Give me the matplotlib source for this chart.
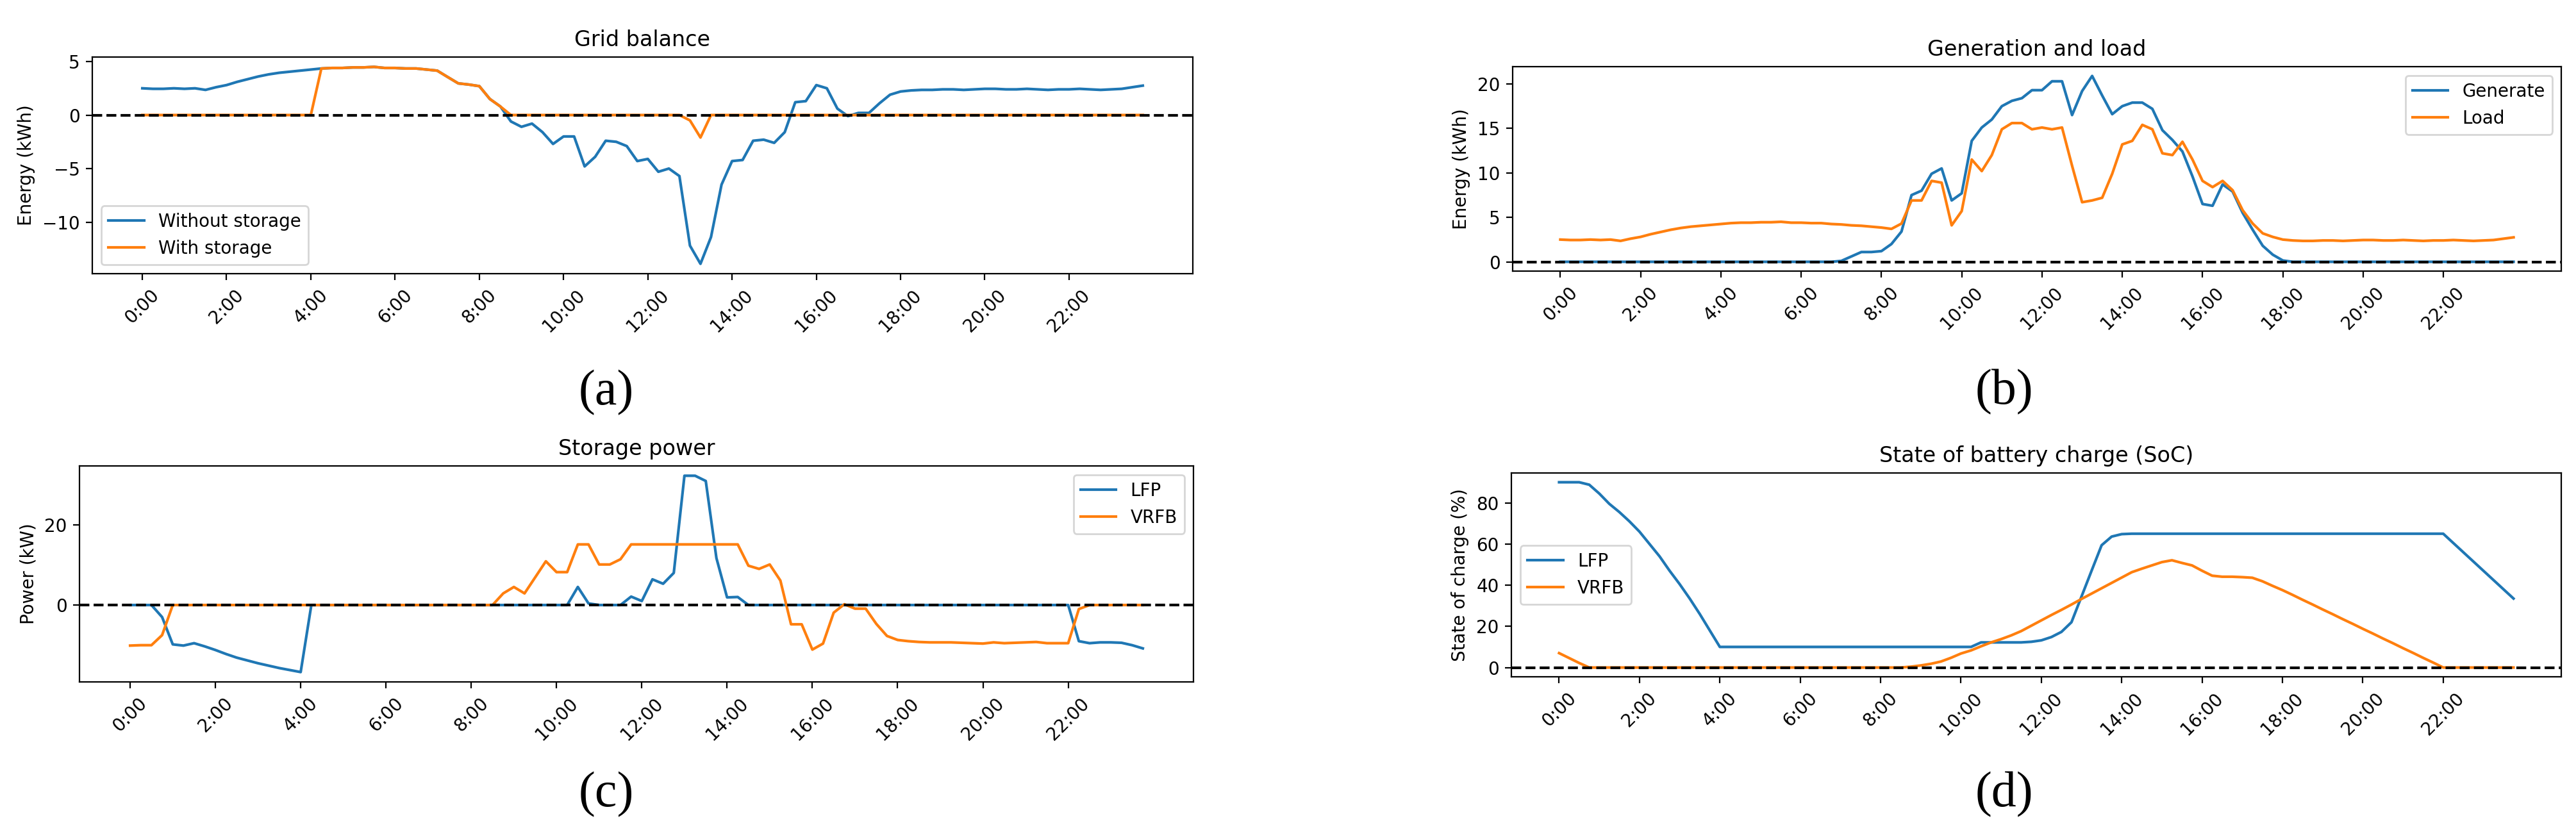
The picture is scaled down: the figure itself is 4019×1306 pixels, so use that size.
import matplotlib
matplotlib.use("Agg")
import matplotlib.pyplot as plt
import numpy as np
from matplotlib.ticker import MultipleLocator

# ---------------- data (15-min resolution, 96 points) ----------------
tick_labels = ["0:00", "2:00", "4:00", "6:00", "8:00", "10:00", "12:00",
               "14:00", "16:00", "18:00", "20:00", "22:00"]

grid_without_storage = [
    2.5, 2.45, 2.45, 2.5, 2.45, 2.5, 2.35, 2.6, 2.8, 3.1, 3.35, 3.6,
    3.8, 3.95, 4.05, 4.15, 4.25, 4.35, 4.4, 4.4, 4.45, 4.45, 4.5, 4.4,
    4.4, 4.35, 4.35, 4.25, 4.15, 3.55, 2.96, 2.85, 2.7, 1.5, 0.8, -0.6,
    -1.1, -0.8, -1.6, -2.7, -2.0, -2.0, -4.8, -3.9, -2.4, -2.5, -2.9, -4.3,
    -4.1, -5.3, -5.0, -5.7, -12.2, -13.9, -11.4, -6.5, -4.3, -4.2, -2.4, -2.3,
    -2.6, -1.6, 1.2, 1.3, 2.8, 2.5, 0.6, -0.1, 0.2, 0.2, 1.1, 1.9,
    2.2, 2.3, 2.35, 2.35, 2.4, 2.4, 2.35, 2.4, 2.45, 2.45, 2.4, 2.4,
    2.45, 2.4, 2.35, 2.4, 2.4, 2.45, 2.4, 2.35, 2.4, 2.45, 2.6, 2.75]

grid_with_storage = [
    0, 0, 0, 0, 0, 0, 0, 0, 0, 0, 0, 0,
    0, 0, 0, 0, 0, 4.35, 4.4, 4.4, 4.45, 4.45, 4.5, 4.4,
    4.4, 4.35, 4.35, 4.25, 4.15, 3.55, 2.96, 2.85, 2.7, 1.5, 0.8, 0,
    0, 0, 0, 0, 0, 0, 0, 0, 0, 0, 0, 0,
    0, 0, 0, 0, -0.5, -2.1, 0, 0, 0, 0, 0, 0,
    0, 0, 0, 0, 0, 0, 0, 0, 0, 0, 0, 0,
    0, 0, 0, 0, 0, 0, 0, 0, 0, 0, 0, 0,
    0, 0, 0, 0, 0, 0, 0, 0, 0, 0, 0, 0]

generate = [
    0, 0, 0, 0, 0, 0, 0, 0, 0, 0, 0, 0,
    0, 0, 0, 0, 0, 0, 0, 0, 0, 0, 0, 0,
    0, 0, 0, 0, 0.1, 0.6, 1.1, 1.1, 1.2, 2.0, 3.4, 7.5,
    8.0, 9.9, 10.5, 6.9, 7.7, 13.6, 15.1, 16.0, 17.5, 18.1, 18.4, 19.3,
    19.3, 20.3, 20.3, 16.5, 19.2, 20.9, 18.7, 16.6, 17.5, 17.9, 17.9, 17.2,
    14.8, 13.7, 12.4, 9.6, 6.5, 6.3, 8.7, 7.9, 5.5, 3.6, 1.8, 0.8,
    0.15, 0, 0, 0, 0, 0, 0, 0, 0, 0, 0, 0,
    0, 0, 0, 0, 0, 0, 0, 0, 0, 0, 0, 0]

load = [
    2.5, 2.45, 2.45, 2.5, 2.45, 2.5, 2.35, 2.6, 2.8, 3.1, 3.35, 3.6,
    3.8, 3.95, 4.05, 4.15, 4.25, 4.35, 4.4, 4.4, 4.45, 4.45, 4.5, 4.4,
    4.4, 4.35, 4.35, 4.25, 4.2, 4.1, 4.05, 3.95, 3.85, 3.7, 4.3, 6.9,
    6.9, 9.1, 8.9, 4.1, 5.7, 11.5, 10.2, 12.0, 14.9, 15.6, 15.6, 14.9,
    15.1, 14.9, 15.1, 10.8, 6.7, 6.9, 7.2, 9.9, 13.2, 13.6, 15.4, 14.9,
    12.2, 12.0, 13.5, 11.5, 9.1, 8.4, 9.1, 8.05, 5.8, 4.3, 3.2, 2.8,
    2.5, 2.4, 2.35, 2.35, 2.4, 2.4, 2.35, 2.4, 2.45, 2.45, 2.4, 2.4,
    2.45, 2.4, 2.35, 2.4, 2.4, 2.45, 2.4, 2.35, 2.4, 2.45, 2.6, 2.75]

lfp_power = [
    0, 0, 0, -3.0, -9.8, -10.1, -9.5, -10.3, -11.2, -12.2, -13.1, -13.8,
    -14.5, -15.1, -15.7, -16.2, -16.7, 0, 0, 0, 0, 0, 0, 0,
    0, 0, 0, 0, 0, 0, 0, 0, 0, 0, 0, 0,
    0, 0, 0, 0, 0, 0, 4.5, 0.4, 0, 0, 0, 2.1,
    1.0, 6.4, 5.3, 8.0, 32.2, 32.2, 30.9, 11.7, 1.9, 2.0, 0, 0,
    0, 0, 0, 0, 0, 0, 0, 0, 0, 0, 0, 0,
    0, 0, 0, 0, 0, 0, 0, 0, 0, 0, 0, 0,
    0, 0, 0, 0, 0, -9.0, -9.5, -9.3, -9.3, -9.4, -10.0, -10.8]

vrfb_power = [
    -10.1, -10.0, -10.0, -7.5, 0, 0, 0, 0, 0, 0, 0, 0,
    0, 0, 0, 0, 0, 0, 0, 0, 0, 0, 0, 0,
    0, 0, 0, 0, 0, 0, 0, 0, 0, 0, 0, 2.9,
    4.5, 2.9, 6.9, 10.9, 8.2, 8.2, 15.1, 15.1, 10.1, 10.1, 11.4, 15.1,
    15.1, 15.1, 15.1, 15.1, 15.1, 15.1, 15.1, 15.1, 15.1, 15.1, 9.8, 9.0,
    10.1, 6.1, -4.8, -4.8, -11.1, -9.6, -1.9, 0.2, -0.9, -0.9, -4.7, -7.7,
    -8.7, -9.0, -9.2, -9.3, -9.3, -9.3, -9.4, -9.5, -9.6, -9.3, -9.5, -9.4,
    -9.3, -9.2, -9.5, -9.5, -9.5, -1.0, 0, 0, 0, 0, 0, 0]

lfp_soc = [
    90, 90, 90, 88.8, 84.5, 79.5, 75.5, 71, 66, 60, 54, 47,
    40.5, 33.5, 26, 18, 10, 10, 10, 10, 10, 10, 10, 10,
    10, 10, 10, 10, 10, 10, 10, 10, 10, 10, 10, 10,
    10, 10, 10, 10, 10, 10, 12.2, 12.2, 12.2, 12.2, 12.2, 12.5,
    13.2, 14.8, 17.3, 22, 34.5, 47, 59.4, 63.6, 64.8, 65, 65, 65,
    65, 65, 65, 65, 65, 65, 65, 65, 65, 65, 65, 65,
    65, 65, 65, 65, 65, 65, 65, 65, 65, 65, 65, 65,
    65, 65, 65, 65, 65, 60.5, 56, 51.5, 47, 42.5, 38, 33.5]

vrfb_soc = [
    7.0, 4.6, 2.2, 0, 0, 0, 0, 0, 0, 0, 0, 0,
    0, 0, 0, 0, 0, 0, 0, 0, 0, 0, 0, 0,
    0, 0, 0, 0, 0, 0, 0, 0, 0, 0, 0, 0.4,
    1.0, 1.8, 2.9, 4.7, 6.8, 8.3, 10.3, 12.2, 13.8, 15.6, 17.7, 20.3,
    22.9, 25.5, 28.0, 30.6, 33.3, 35.9, 38.5, 41.1, 43.7, 46.3, 48.0, 49.6,
    51.2, 52.1, 50.8, 49.6, 47.0, 44.6, 44.1, 44.1, 43.9, 43.6, 41.9, 39.7,
    37.6, 35.3, 32.9, 30.6, 28.2, 25.9, 23.5, 21.2, 18.8, 16.5, 14.1, 11.8,
    9.4, 7.1, 4.7, 2.4, 0, 0, 0, 0, 0, 0, 0, 0]

x = np.arange(len(load))
tick_pos = np.arange(0, len(load), 8)[:len(tick_labels)]

# ---------------- figure ----------------
W, H = 4019, 1306
DPI = 200
fig = plt.figure(figsize=(W / DPI, H / DPI), dpi=DPI)


def add_ax(left, right, top, bottom):
    return fig.add_axes([left / W, 1 - bottom / H, (right - left) / W,
                         (bottom - top) / H])


def style(ax, title, ylabel, step):
    ax.axhline(0, color="black", linestyle="--")
    ax.set_title(title)
    ax.set_ylabel(ylabel)
    ax.set_xticks(tick_pos)
    ax.set_xticklabels(tick_labels, rotation=45)
    ax.yaxis.set_major_locator(MultipleLocator(step))


ax_a = add_ax(144, 1861, 89, 427)
ax_a.plot(x, grid_without_storage, label="Without storage")
ax_a.plot(x, grid_with_storage, label="With storage")
style(ax_a, "Grid balance", "Energy (kWh)", 5)
ax_a.legend(loc="lower left")

ax_b = add_ax(2360, 3996, 104, 423)
ax_b.plot(x, generate, label="Generate")
ax_b.plot(x, load, label="Load")
style(ax_b, "Generation and load", "Energy (kWh)", 5)
ax_b.legend(loc="upper right")

ax_c = add_ax(124, 1862, 727, 1064)
ax_c.plot(x, lfp_power, label="LFP")
ax_c.plot(x, vrfb_power, label="VRFB")
style(ax_c, "Storage power", "Power (kW)", 20)
ax_c.legend(loc="upper right")

ax_d = add_ax(2358, 3996, 738, 1056)
ax_d.plot(x, lfp_soc, label="LFP")
ax_d.plot(x, vrfb_soc, label="VRFB")
style(ax_d, "State of battery charge (SoC)", "State of charge (%)", 20)
ax_d.legend(loc="center left")

# panel letters
for txt, px, py in [("(a)", 946, 613), ("(b)", 3127, 612),
                    ("(c)", 946, 1240), ("(d)", 3127, 1240)]:
    fig.text(px / W, 1 - py / H, txt, ha="center", va="center",
             fontsize=28, family="Liberation Serif")

fig.savefig("out.png", dpi=DPI)
